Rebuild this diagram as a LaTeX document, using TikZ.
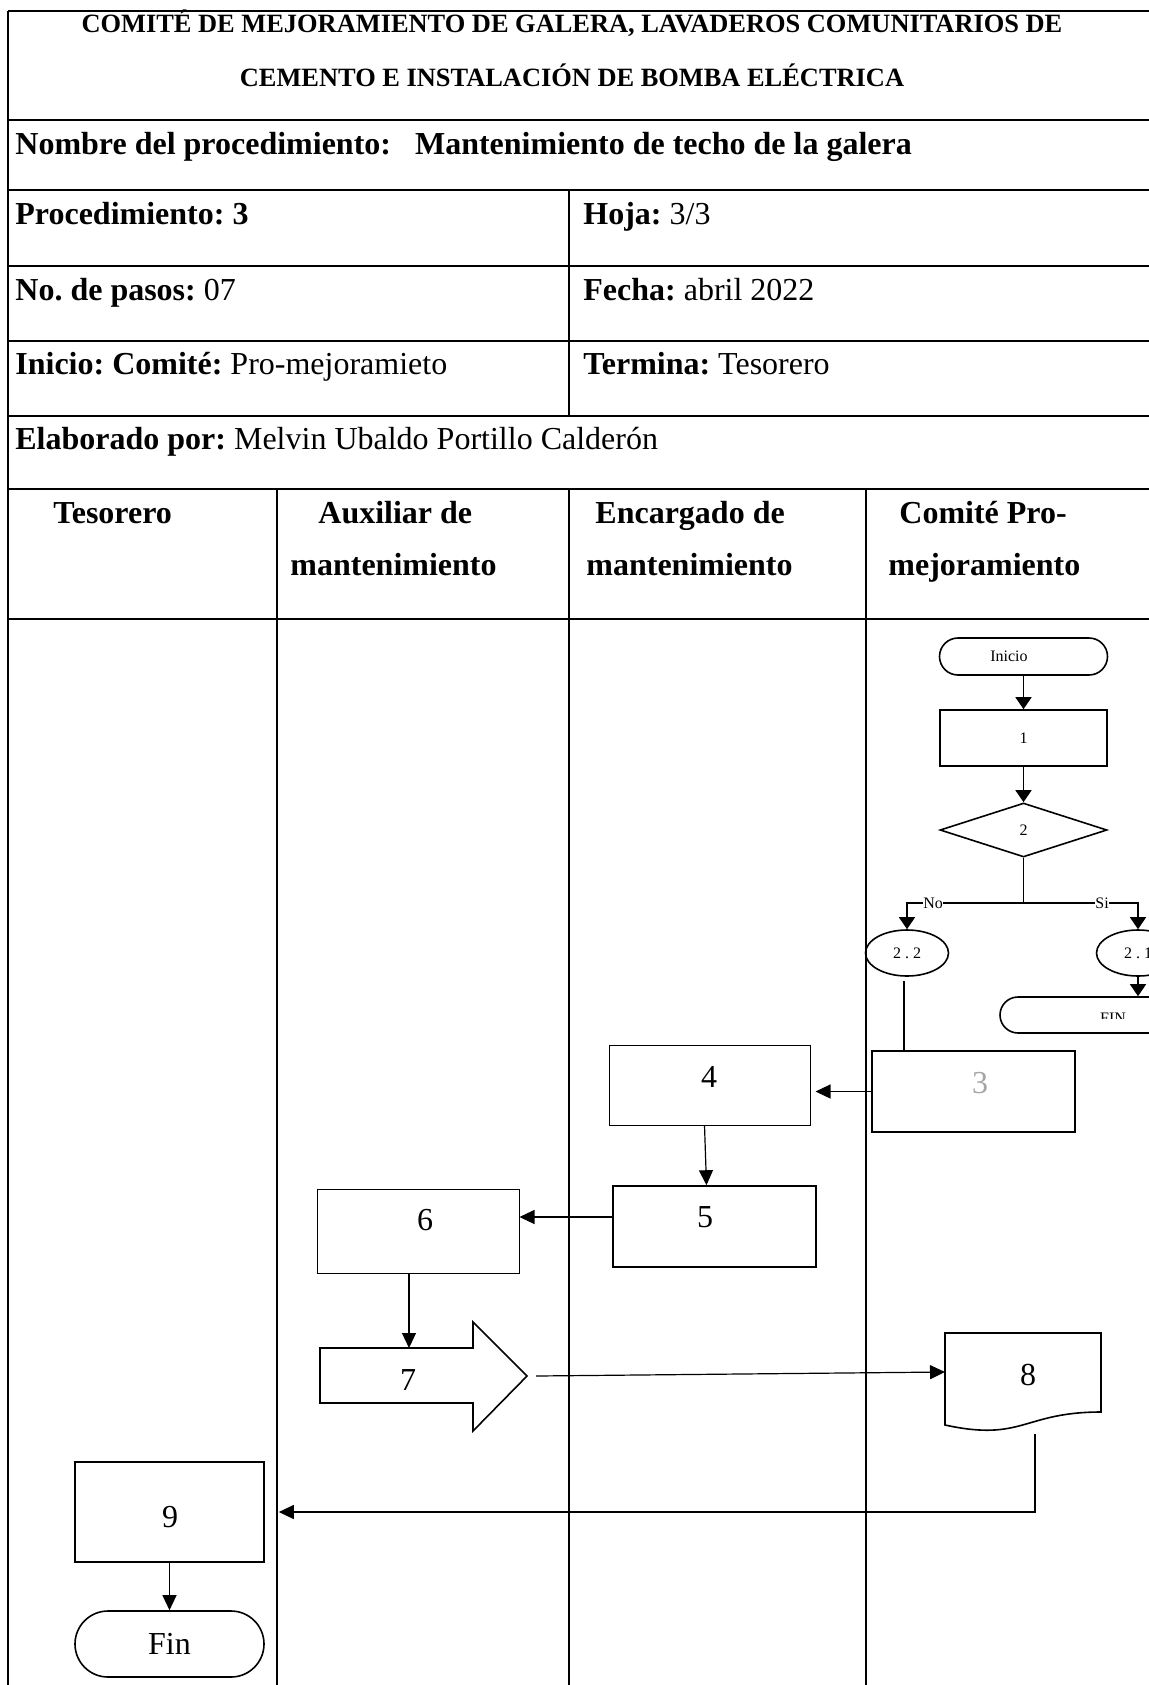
\documentclass[tikz,border=0pt]{standalone}
\usepackage{fontspec}
\setmainfont{Liberation Serif}
\usetikzlibrary{shapes.geometric,shapes.misc,arrows.meta,calc}
\definecolor{lgray}{RGB}{165,165,165}
\frenchspacing
\begin{document}
\begin{tikzpicture}[x=0.5pt,y=-0.5pt,
  tbl/.style={line width=1.2pt},
  lane/.style={line width=0.9pt},
  rowtxt/.style={anchor=west,inner sep=0pt,font=\fontsize{16}{19}\selectfont,text height=11pt,text depth=3pt},
  hdtxt/.style={anchor=west,inner sep=0pt,font=\bfseries\fontsize{16}{19}\selectfont,text height=11pt,text depth=3pt},
  ttl/.style={inner sep=0pt,font=\bfseries\fontsize{13.2}{16}\selectfont,text height=9pt,text depth=3pt},
  proc/.style={draw,rectangle,line width=0.8pt,inner sep=0pt},
  procthin/.style={draw,rectangle,line width=0.5pt,inner sep=0pt},
  term/.style={draw,rounded rectangle,line width=0.8pt,inner sep=0pt},
  conn/.style={draw,ellipse,line width=0.8pt,inner sep=0pt},
  arr/.style={-{Triangle[length=7.5pt,width=7pt]},line width=0.6pt},
  arrs/.style={-{Triangle[length=6pt,width=8pt]},line width=0.7pt},
  small/.style={font=\fontsize{8}{9}\selectfont,inner sep=0pt},
  num/.style={font=\fontsize{16}{19}\selectfont,inner sep=0pt},
]
\useasboundingbox (0,0) rectangle (1149,1685);
\clip (0,0) rectangle (1149,1685);

% ---------- table ----------
\foreach \yy in {11,120,190,266,341,416,489,619}
  \draw[tbl] (8,\yy) -- (1160,\yy);
\draw[tbl] (8,11) -- (8,1690);
\draw[lane] (569,190) -- (569,416);
\foreach \xx in {277,569,866}
  \draw[lane] (\xx,489) -- (\xx,1690);

\node[ttl] (t1) at (572,27) {COMITÉ DE MEJORAMIENTO DE GALERA, LAVADEROS COMUNITARIOS DE};
\node[ttl] (t2) at (572,81) {CEMENTO E INSTALACIÓN DE BOMBA ELÉCTRICA};

\node[rowtxt] (r1) at (15,147) {\textbf{Nombre del procedimiento:\ \ \ Mantenimiento de techo de la galera}};
\node[rowtxt] (r2) at (15,217) {\textbf{Procedimiento: 3}};
\node[rowtxt] (r2b) at (583,217) {\textbf{Hoja:} 3/3};
\node[rowtxt] (r3) at (15,292) {\textbf{No. de pasos:} 07};
\node[rowtxt] (r3b) at (583,292) {\textbf{Fecha:} abril 2022};
\node[rowtxt] (r4) at (15,366) {\textbf{Inicio: Comité:} Pro-mejoramieto};
\node[rowtxt] (r4b) at (583,366) {\textbf{Termina:} Tesorero};
\node[rowtxt] (r5) at (15,441) {\textbf{Elaborado por:} Melvin Ubaldo Portillo Calderón};

\node[hdtxt] (h1) at (53,515) {Tesorero};
\node[hdtxt] (h2a) at (318,515) {Auxiliar de};
\node[hdtxt] (h2b) at (290,567) {mantenimiento};
\node[hdtxt] (h3a) at (595,515) {Encargado de};
\node[hdtxt] (h3b) at (586,567) {mantenimiento};
\node[hdtxt] (h4a) at (899,515) {Comité Pro-};
\node[hdtxt] (h4b) at (888,567) {mejoramiento};

% ---------- flowchart: comite ----------
\node[term,minimum width=84pt,minimum height=18.5pt] (ini) at (1023.5,656.5) {};
\node[small] (initxt) at (1009,656.5) {Inicio};
\node[proc,minimum width=83.5pt,minimum height=28pt,small] (b1) at (1023.5,738) {1};
\node[draw,diamond,line width=0.8pt,inner sep=0pt,minimum width=83.5pt,minimum height=27pt,small] (d2) at (1023.5,830) {2};
\coordinate (j) at (1023.5,903);
\node[conn,minimum width=41.5pt,minimum height=23pt,small] (e22) at (907,953) {2 . 2};
\node[conn,minimum width=41.5pt,minimum height=23pt,small] (e21) at (1138,953) {2 . 1};
\node[term,minimum width=111pt,minimum height=18pt] (fin2) at (1111,1015) {};
\begin{scope}
  \clip (1000,990) rectangle (1149,1018);
  \node[small,anchor=base] (fintxt) at (1113,1023) {FIN};
\end{scope}

\draw[arrs] (ini.south) -- (b1.north);
\draw[arrs] (b1.south) -- (d2.north);
\draw[line width=0.8pt] (d2.south) -- (j);
\draw[arrs] (j) -| (e22.north);
\draw[arrs] (j) -| (e21.north);
\node[small,fill=white,anchor=west,inner ysep=1.5pt] (lno) at (923,903) {No\hspace{7pt}};
\node[small,fill=white,anchor=west,inner ysep=1.5pt] (lsi) at (1095,903) {Si\hspace{5pt}};
\draw[arrs] (e21.south) -- (e21.south |- fin2.north);

\node[proc,minimum width=101.5pt,minimum height=40.5pt] (b3) at (973.5,1091.5) {};
\node[num,text=lgray] (t3) at (980,1083) {3};
\draw[line width=0.8pt] ($(e22.south)+(-3,4)$) -- ($(e22.south |- b3.north)+(-3,0)$);

% ---------- encargado ----------
\node[procthin,minimum width=100.5pt,minimum height=40pt] (b4) at (709.5,1085) {};
\node[num] (t4) at (709,1077) {4};
\node[proc,minimum width=101.5pt,minimum height=40.5pt] (b5) at (714.5,1226.5) {};
\node[num] (t5) at (705,1217) {5};
\draw[arr,shorten >=2.5pt] (b3.west) -- (b3.west -| b4.east);
\draw[arr] ($(b4.south)+(-5,0)$) -- ($(b5.north)+(-8,0)$);

% ---------- auxiliar ----------
\node[procthin,minimum width=101pt,minimum height=42pt] (b6) at (418,1231) {};
\node[num] (t6) at (425,1220) {6};
\draw[arr] (b5.west |- t5) -- (b6.east |- t5);

\coordinate (a7tip) at (527,1376);
\coordinate (a7top) at (409,1348);
\draw[line width=0.8pt] (320,1348) -- (473,1348) -- (473,1322) -- (a7tip) -- (473,1431) -- (473,1403) -- (320,1403) -- cycle;
\node[num] (t7) at (408,1380) {7};
\draw[arr] (b6.south -| a7top) -- (a7top);

% ---------- document 8 ----------
\draw[line width=0.8pt] (945,1333) -- (1101,1333) -- (1101,1412)
  .. controls (1023,1412) and (1023,1442) .. (945,1425) -- cycle;
\coordinate (d8l) at (945,1372);
\coordinate (d8b) at (1035,1434);
\node[num] (t8) at (1028,1375) {8};
\draw[arr] (a7tip) ++(9,0) -- (d8l);

% ---------- tesorero ----------
\node[proc,minimum width=94.5pt,minimum height=50pt] (b9) at (169.5,1512) {};
\node[num] (t9) at (170,1517) {9};
\node[term,minimum width=94.5pt,minimum height=33pt,num] (fin) at (169.5,1644) {Fin};
\draw[arr] (d8b) |- ([xshift=7pt]b9.east);
\draw[arr] (b9.south) -- (fin.north);
\end{tikzpicture}
\end{document}
